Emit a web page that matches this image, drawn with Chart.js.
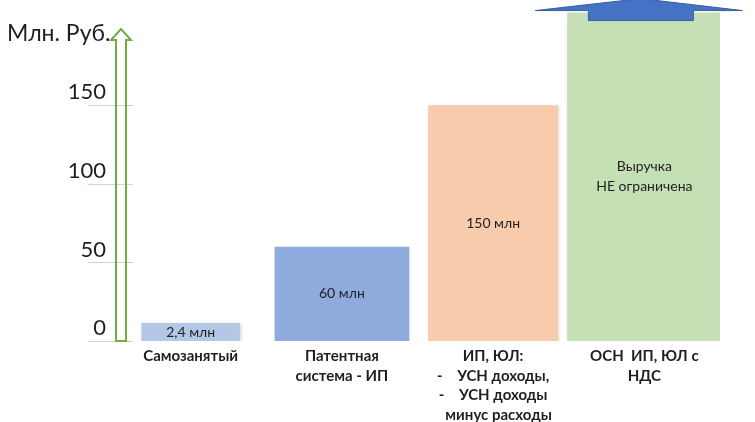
<!DOCTYPE html>
<html>
<head>
<meta charset="utf-8">
<script src="https://cdn.jsdelivr.net/npm/chart.js@4"></script>
<style>
  html, body { margin: 0; padding: 0; background: #ffffff; }
  #wrap { width: 755px; height: 422px; position: relative; }
</style>
</head>
<body>
<div id="wrap"><canvas id="chart"></canvas></div>
<script>
// Revenue limits by tax regime, million roubles
const categories = [
  ['Самозанятый'],
  ['Патентная', 'система - ИП'],
  ['ИП, ЮЛ:', '-    УСН доходы,', '-    УСН доходы', '   минус расходы'],
  ['ОСН  ИП, ЮЛ с', 'НДС']
];
const limits = [2.4, 60, 150, 209];
const barTexts = [['2,4 млн'], ['60 млн'], ['150 млн'], ['Выручка', 'НЕ ограничена']];
const yTicks = [0, 50, 100, 150];
const unitLabel = 'Млн. Руб.';

// Styling
const barColors = ['#b4c7e7', '#8faadc', '#f8cbad', '#c5e0b4'];
const barWidthShare = [0.65, 0.89, 0.86, 1.02];
const textColor = '#1f1f1f';

const datasets = limits.map((v, i) => ({
  data: limits.map((_, j) => (j === i ? v : null)),
  backgroundColor: barColors[i],
  borderWidth: 0,
  barPercentage: barWidthShare[i],
  categoryPercentage: 1,
  grouped: false,
  minBarLength: i === 0 ? 18 : 0
}));

const decor = {
  id: 'decor',
  beforeDatasetsDraw(chart) {
    const ctx = chart.ctx;
    ctx.save();
    ctx.shadowColor = 'rgba(0,0,0,0.18)';
    ctx.shadowBlur = 3;
    ctx.shadowOffsetX = 1;
    ctx.shadowOffsetY = 1;
  },
  afterDatasetsDraw(chart) {
    const ctx = chart.ctx;
    ctx.restore();

    // value captions centred inside each bar
    ctx.save();
    ctx.fillStyle = textColor;
    ctx.font = '14px Lato';
    ctx.textAlign = 'center';
    ctx.textBaseline = 'middle';
    limits.forEach((v, i) => {
      const el = chart.getDatasetMeta(i).data[i];
      const midY = (el.y + el.base) / 2;
      const lines = barTexts[i];
      const lh = 20;
      lines.forEach((t, k) => {
        ctx.fillText(t, el.x, midY + (k - (lines.length - 1) / 2) * lh);
      });
    });
    ctx.restore();

    // blue "no limit" arrow capping the last bar
    const last = limits.length - 1;
    const top = chart.getDatasetMeta(last).data[last];
    const cx = top.x, ty = top.y;
    ctx.save();
    ctx.beginPath();
    ctx.moveTo(cx - 4, ty - 14);
    ctx.lineTo(cx + 98, ty - 2);
    ctx.lineTo(cx + 49, ty - 2);
    ctx.lineTo(cx + 49, ty + 8);
    ctx.lineTo(cx - 56, ty + 8);
    ctx.lineTo(cx - 56, ty - 2);
    ctx.lineTo(cx - 109, ty - 2);
    ctx.closePath();
    ctx.fillStyle = '#4472c4';
    ctx.fill();
    ctx.strokeStyle = '#3a5f9e';
    ctx.lineWidth = 1;
    ctx.stroke();
    ctx.restore();
  },
  afterDraw(chart) {
    const ctx = chart.ctx;
    const ys = chart.scales.y;
    const area = chart.chartArea;
    ctx.save();

    // short tick rules next to the axis
    ctx.strokeStyle = '#c9d4e2';
    ctx.lineWidth = 1;
    yTicks.forEach(v => {
      const y = Math.round(ys.getPixelForValue(v)) + 0.5;
      ctx.beginPath();
      ctx.moveTo(area.left - 27, y);
      ctx.lineTo(area.left + 18, y);
      ctx.stroke();
    });

    // green outlined axis arrow
    const base = ys.getPixelForValue(0);
    const l = area.left + 1, r = area.left + 11, mid = (l + r) / 2;
    const tipY = area.top + 29, wingY = area.top + 40;
    ctx.beginPath();
    ctx.moveTo(l, base);
    ctx.lineTo(l, wingY);
    ctx.lineTo(l - 5, wingY);
    ctx.lineTo(mid, tipY);
    ctx.lineTo(r + 5, wingY);
    ctx.lineTo(r, wingY);
    ctx.lineTo(r, base);
    ctx.closePath();
    ctx.strokeStyle = '#70ad47';
    ctx.lineWidth = 2;
    ctx.stroke();

    // unit caption
    ctx.fillStyle = textColor;
    ctx.font = '23px Lato';
    ctx.textAlign = 'left';
    ctx.textBaseline = 'middle';
    ctx.fillText(unitLabel, 7, area.top + 34);
    ctx.restore();
  }
};

new Chart(document.getElementById('chart'), {
  type: 'bar',
  data: { labels: categories, datasets },
  plugins: [decor],
  options: {
    responsive: true,
    maintainAspectRatio: false,
    animation: false,
    layout: { padding: { top: 0, right: 35, left: 0, bottom: 0 } },
    plugins: {
      legend: { display: false },
      tooltip: { enabled: false }
    },
    scales: {
      x: {
        grid: { display: false, drawTicks: false },
        border: { display: false },
        ticks: {
          color: textColor,
          font: { family: 'Lato', size: 15, weight: 'bold', lineHeight: 1.32 },
          padding: 5,
          maxRotation: 0,
          autoSkip: false
        },
        afterFit(s) {
          s.height = 81;
          s.paddingLeft = 0;
          s.paddingRight = 0;
        }
      },
      y: {
        min: 0,
        max: 217,
        grid: { display: false, drawTicks: false },
        border: { display: false },
        afterBuildTicks(s) { s.ticks = yTicks.map(v => ({ value: v })); },
        ticks: {
          color: textColor,
          font: { family: 'Lato', size: 22 },
          padding: 9,
          labelOffset: -13
        },
        afterFit(s) {
          s.width = 115;
          s.paddingTop = 0;
          s.paddingBottom = 0;
        }
      }
    }
  }
});
</script>
</body>
</html>
